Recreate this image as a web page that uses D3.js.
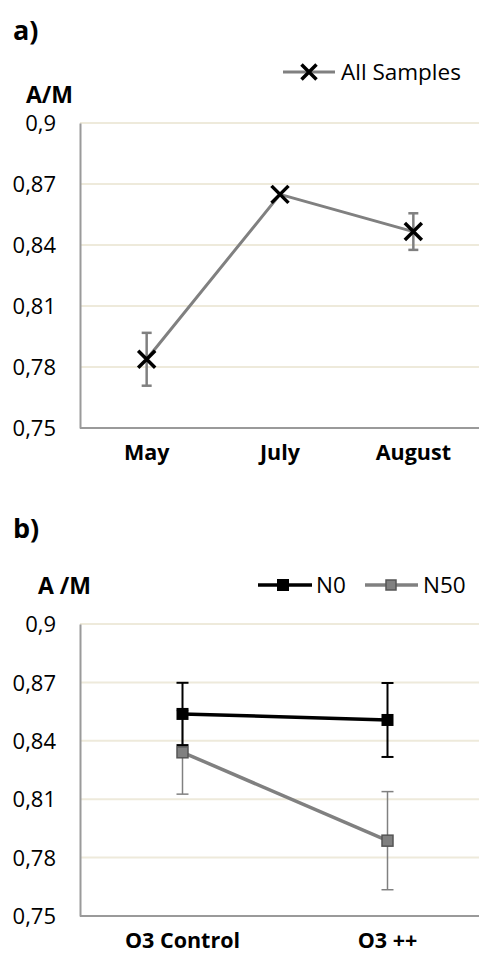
<!DOCTYPE html>
<html><head><meta charset="utf-8">
<script src="https://cdn.jsdelivr.net/npm/d3@7"></script>
<style>body{margin:0;background:#fff}svg{display:block}text{font-family:"Open Sans","Liberation Sans",sans-serif}</style>
</head><body>
<svg id="c" width="480" height="954"></svg>
<script>
const yTicks = [0.75, 0.78, 0.81, 0.84, 0.87, 0.9];
const tickLabels = ["0,75", "0,78", "0,81", "0,84", "0,87", "0,9"];

const monthsA = ["May", "July", "August"];
const allSamples = [0.7838, 0.8649, 0.8466];
const allSamplesErr = [0.013, 0, 0.009];

const treatmentsB = ["O3 Control", "O3 ++"];
const n0 = [0.8538, 0.8507];
const n0Err = [0.016, 0.019];
const n50 = [0.8341, 0.7887];
const n50Err = [0.0215, 0.0252];

const svg = d3.select("#c");
const GRID = "#eeeadb", AXIS = "#9a9a9a", GREY = "#808080";

function panel(cfg) {
  const g = svg.append("g");
  const y = d3.scaleLinear().domain([0.75, 0.9]).range([cfg.bottom, cfg.top]);
  const x = d3.scaleBand().domain(cfg.cats).range([80, cfg.right]);
  g.selectAll(".grid").data(yTicks.slice(1)).join("line")
    .attr("x1", 80).attr("x2", 479)
    .attr("y1", d => y(d)).attr("y2", d => y(d))
    .attr("stroke", GRID).attr("stroke-width", 2);
  const ya = d3.axisLeft(y).tickValues(yTicks).tickFormat((d, i) => tickLabels[i]).tickSize(0).tickPadding(24);
  const yg = g.append("g").attr("transform", "translate(80,0)").call(ya);
  yg.select(".domain").attr("stroke", AXIS).attr("stroke-width", 2);
  yg.selectAll("text").attr("font-size", 22).attr("fill", "#000").attr("dy", "0.35em");
  const xa = d3.axisBottom(x).tickSize(0).tickPadding(17);
  const xg = g.append("g").attr("transform", `translate(0,${cfg.bottom})`).call(xa);
  xg.select(".domain").attr("stroke", AXIS).attr("stroke-width", 2).attr("d", `M80,0H479`);
  xg.selectAll("text").attr("font-size", 21.5).attr("font-weight", "bold").attr("fill", "#000").attr("dy", "0.71em");
  return {g, x, y};
}

function errorBars(g, x, y, cats, vals, errs, color, sw, cap) {
  const d = cats.map((c, i) => ({c, v: vals[i], e: errs[i]})).filter(d => d.e > 0);
  const cx = d => x(d.c) + x.bandwidth() / 2;
  g.selectAll(null).data(d).join("line")
    .attr("x1", cx).attr("x2", cx).attr("y1", d => y(d.v + d.e)).attr("y2", d => y(d.v - d.e))
    .attr("stroke", color).attr("stroke-width", sw);
  [1, -1].forEach(s => {
    g.selectAll(null).data(d).join("line")
      .attr("x1", d => cx(d) - cap).attr("x2", d => cx(d) + cap)
      .attr("y1", d => y(d.v + s * d.e)).attr("y2", d => y(d.v + s * d.e))
      .attr("stroke", color).attr("stroke-width", sw);
  });
}

function xMark(g, cx, cy, r) {
  g.append("path").attr("d", `M${cx - r},${cy - r}L${cx + r},${cy + r}M${cx - r},${cy + r}L${cx + r},${cy - r}`)
    .attr("stroke", "#000").attr("stroke-width", 3.5);
}

// ---------- Panel a ----------
svg.append("text").attr("x", 13).attr("y", 40).attr("font-size", 27).attr("font-weight", "bold").text("a)");
svg.append("text").attr("x", 26).attr("y", 103).attr("font-size", 23).attr("font-weight", "bold").text("A/M");
{
  const {g, x, y} = panel({cats: monthsA, top: 123, bottom: 428, right: 480});
  const cx = c => x(c) + x.bandwidth() / 2;
  errorBars(g, x, y, monthsA, allSamples, allSamplesErr, GREY, 2.5, 5);
  const line = d3.line().x((d, i) => cx(monthsA[i])).y(d => y(d));
  g.append("path").datum(allSamples).attr("d", line).attr("fill", "none").attr("stroke", GREY).attr("stroke-width", 3);
  allSamples.forEach((v, i) => xMark(g, cx(monthsA[i]), y(v), 8.5));
  g.append("line").attr("x1", 283).attr("x2", 335).attr("y1", 72).attr("y2", 72).attr("stroke", GREY).attr("stroke-width", 3);
  xMark(g, 309, 72, 7.5);
  g.append("text").attr("x", 341).attr("y", 72).attr("dy", "0.35em").attr("font-size", 22.5).text("All Samples");
}

// ---------- Panel b ----------
svg.append("text").attr("x", 13).attr("y", 538).attr("font-size", 27).attr("font-weight", "bold").text("b)");
svg.append("text").attr("x", 38).attr("y", 594).attr("font-size", 23).attr("font-weight", "bold").text("A /M");
{
  const {g, x, y} = panel({cats: treatmentsB, top: 624, bottom: 916, right: 490});
  const cx = c => x(c) + x.bandwidth() / 2;
  errorBars(g, x, y, treatmentsB, n50, n50Err, GREY, 1.5, 6);
  errorBars(g, x, y, treatmentsB, n0, n0Err, "#000", 2, 6);
  const line = d3.line().x((d, i) => cx(treatmentsB[i])).y(d => y(d));
  g.append("path").datum(n50).attr("d", line).attr("fill", "none").attr("stroke", GREY).attr("stroke-width", 3.5);
  g.append("path").datum(n0).attr("d", line).attr("fill", "none").attr("stroke", "#000").attr("stroke-width", 3.5);
  g.selectAll(null).data(n50).join("rect")
    .attr("x", (d, i) => cx(treatmentsB[i]) - 5.5).attr("y", d => y(d) - 5.5)
    .attr("width", 11).attr("height", 11).attr("fill", GREY).attr("stroke", "#555").attr("stroke-width", 1.5);
  g.selectAll(null).data(n0).join("rect")
    .attr("x", (d, i) => cx(treatmentsB[i]) - 6).attr("y", d => y(d) - 6)
    .attr("width", 12).attr("height", 12).attr("fill", "#000");
  g.append("line").attr("x1", 258).attr("x2", 312).attr("y1", 585).attr("y2", 585).attr("stroke", "#000").attr("stroke-width", 3.5);
  g.append("rect").attr("x", 277).attr("y", 579).attr("width", 12).attr("height", 12).attr("fill", "#000");
  g.append("text").attr("x", 316).attr("y", 585).attr("dy", "0.35em").attr("font-size", 22.5).text("N0");
  g.append("line").attr("x1", 365).attr("x2", 418).attr("y1", 585).attr("y2", 585).attr("stroke", GREY).attr("stroke-width", 3.5);
  g.append("rect").attr("x", 386).attr("y", 580).attr("width", 10).attr("height", 10).attr("fill", GREY).attr("stroke", "#555").attr("stroke-width", 1.5);
  g.append("text").attr("x", 423).attr("y", 585).attr("dy", "0.35em").attr("font-size", 22.5).text("N50");
}
</script>
</body></html>
